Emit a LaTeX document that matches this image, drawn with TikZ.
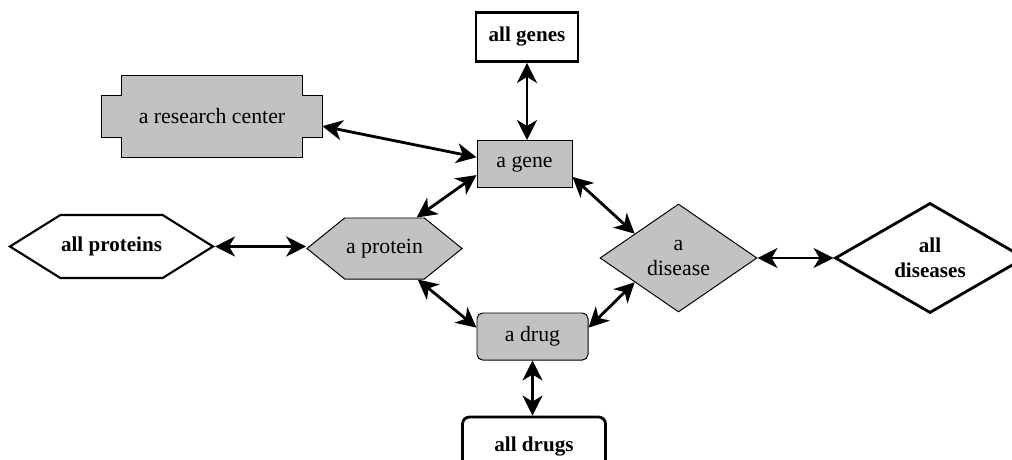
\documentclass[tikz,border=0pt]{standalone}
\usepackage{fontspec}
\setmainfont{Liberation Serif}
\usetikzlibrary{arrows.meta,shapes.geometric,shapes.symbols,backgrounds}

\tikzset{
  item/.style={draw, fill=black!24, line width=0.7pt},
  whole/.style={draw, line width=2pt, font=\fontsize{15}{18}\selectfont\bfseries},
  link/.style={{Stealth[length=0.5cm,width=0.5cm,inset=0.15cm]}-{Stealth[length=0.5cm,width=0.5cm,inset=0.15cm]}, line width=2pt}
}

\begin{document}
\begin{tikzpicture}[x=0.025cm, y=-0.025cm, every node/.style={font=\fontsize{15.5}{18}\selectfont, align=center, inner sep=0pt}]
	\useasboundingbox (0,0) rectangle (1012,460);
	% the whole sets
	\node[whole, minimum width=2.55cm, minimum height=1.225cm] (allgenes) at (527,37) {all genes};
	\node[whole, signal, signal to=west and east, signal pointer angle=64, minimum width=5.075cm, minimum height=1.575cm, line width=1.5pt] (allproteins) at (111.5,246.5) {all proteins};
	\node[whole, diamond, aspect=1.7, minimum width=4.75cm, minimum height=2.75cm] (alldiseases) at (930,258) {all\\diseases};
	\node[whole, rounded corners=5pt, minimum width=3.575cm, minimum height=1.5cm] (alldrugs) at (534,447) {all drugs};
	% the single items
	\node[minimum width=5.5cm, minimum height=2.025cm] (center) at (212,116.5) {a research center};
	\node[item, minimum width=2.375cm, minimum height=1.175cm] (gene) at (524.5,164) {a gene};
	\node[item, signal, signal to=west and east, signal pointer angle=78, minimum width=3.875cm, minimum height=1.525cm] (protein) at (384.5,248.5) {a protein};
	\node[item, diamond, aspect=1.45, minimum width=3.925cm, minimum height=2.7cm] (disease) at (678.5,258) {a\\disease};
	\node[item, rounded corners=4pt, minimum width=2.775cm, minimum height=1.175cm] (drug) at (532.5,336.5) {a drug};
	\begin{scope}[on background layer]
		\filldraw[item] ([xshift=0.5cm]center.north west) -- ([xshift=-0.5cm]center.north east)
			-- ([xshift=-0.5cm,yshift=-0.5cm]center.north east) -- ([yshift=-0.5cm]center.north east)
			-- ([yshift=0.5cm]center.south east) -- ([xshift=-0.5cm,yshift=0.5cm]center.south east)
			-- ([xshift=-0.5cm]center.south east) -- ([xshift=0.5cm]center.south west)
			-- ([xshift=0.5cm,yshift=0.5cm]center.south west) -- ([yshift=0.5cm]center.south west)
			-- ([yshift=-0.5cm]center.north west) -- ([xshift=0.5cm,yshift=-0.5cm]center.north west) -- cycle;
	\end{scope}
	% links
	\draw[link] (allgenes.south) -- (allgenes.south |- gene.north);
	\draw[link] (center.-5) -- (gene.172);
	\draw[link] (protein.44) -- (gene.193);
	\draw[link] (gene.-15) -- (disease.151);
	\draw[link] (protein.-43) -- (drug.171);
	\draw[link] (disease.209) -- (drug.9);
	\draw[link] (allproteins.east) -- (allproteins.east -| protein.west);
	\draw[link] (disease.east) -- (alldiseases.west);
	\draw[link] (drug.south) -- (drug.south |- alldrugs.north);
\end{tikzpicture}
\end{document}
